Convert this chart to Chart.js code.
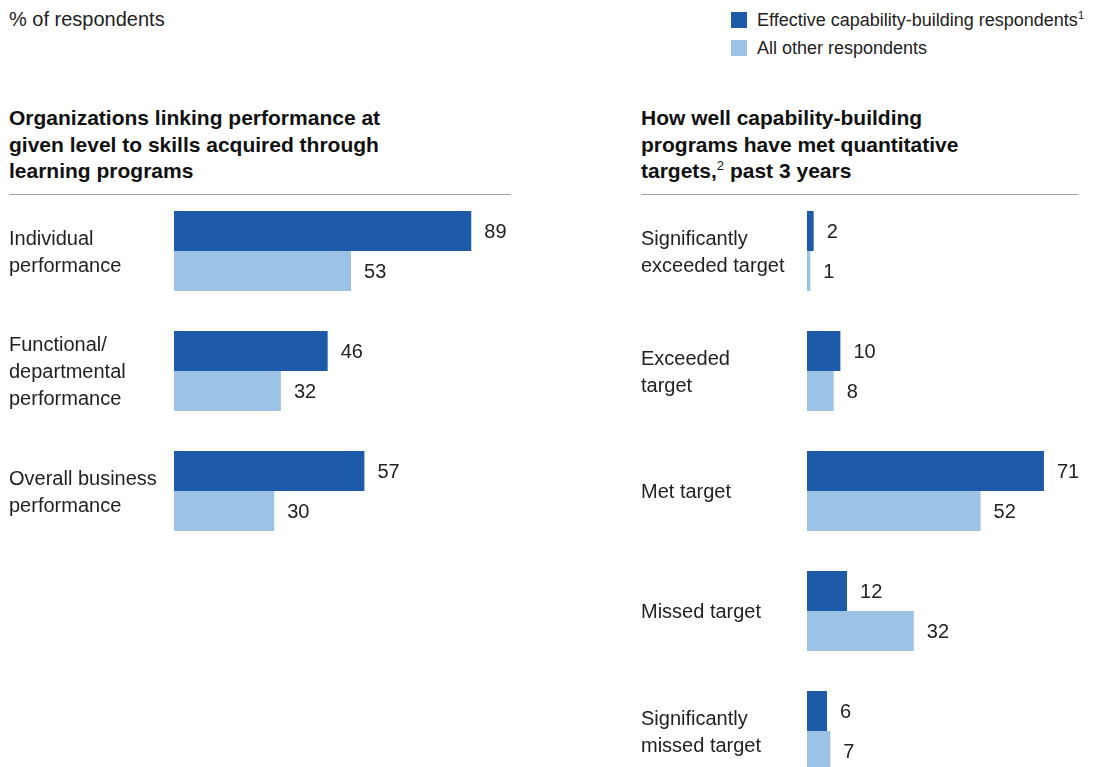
<!DOCTYPE html>
<html>
<head>
<meta charset="utf-8">
<script src="https://cdn.jsdelivr.net/npm/chart.js@4"></script>
<style>
  html, body { margin: 0; padding: 0; }
  body {
    width: 1102px; height: 767px; overflow: hidden; position: relative;
    background: #fff; font-family: "Liberation Sans", Arial, sans-serif; color: #222;
  }
  .unit { position: absolute; left: 9px; top: 6px; font-size: 20px; line-height: 26px; }
  .legend { position: absolute; left: 731px; top: 8px; font-size: 18px; }
  .legend div { height: 28px; line-height: 24px; white-space: nowrap; }
  .legend span.box { display: inline-block; width: 16px; height: 16px; vertical-align: -2px; margin-right: 10px; }
  .legend sup { font-size: 11px; vertical-align: 7px; line-height: 0; }
  .title { position: absolute; top: 105px; font-size: 21px; font-weight: bold; line-height: 26.5px; color: #111; white-space: nowrap; }
  .title sup { font-size: 13px; font-weight: normal; vertical-align: 8px; line-height: 0; }
  .rule { position: absolute; top: 194px; height: 1px; background: #a0a0a0; }
  .wrap { position: absolute; }
</style>
</head>
<body>
<div class="unit">% of respondents</div>
<div class="legend">
  <div><span class="box" style="background:#1d5aa9"></span>Effective capability-building respondents<sup>1</sup></div>
  <div><span class="box" style="background:#9cc2e5"></span>All other respondents</div>
</div>

<div class="title" style="left:9px">Organizations linking performance at<br>given level to skills acquired through<br>learning programs</div>
<div class="rule" style="left:9px; width:502px"></div>

<div class="title" style="left:641px">How well capability-building<br>programs have met quantitative<br>targets,<sup>2</sup> past 3 years</div>
<div class="rule" style="left:641px; width:437px"></div>

<div class="wrap" style="left:9px; top:191px; width:550px; height:360px"><canvas id="leftChart"></canvas></div>
<div class="wrap" style="left:641px; top:191px; width:461px; height:600px"><canvas id="rightChart"></canvas></div>

<script>
// data
const seriesNames = ["Effective capability-building respondents", "All other respondents"];
const leftCategories = [["Individual", "performance"], ["Functional/", "departmental", "performance"], ["Overall business", "performance"]];
const leftEffective = [89, 46, 57];
const leftOther = [53, 32, 30];
const rightCategories = [["Significantly", "exceeded target"], ["Exceeded", "target"], "Met target", "Missed target", ["Significantly", "missed target"]];
const rightEffective = [2, 10, 71, 12, 6];
const rightOther = [1, 8, 52, 32, 7];

const darkBlue = "#1d5aa9";
const lightBlue = "#9cc2e5";

// value labels right of each bar
const valueLabels = {
  id: "valueLabels",
  afterDatasetsDraw(chart) {
    const ctx = chart.ctx;
    ctx.save();
    ctx.font = "20px 'Liberation Sans', Arial, sans-serif";
    ctx.fillStyle = "#222";
    ctx.textAlign = "left";
    ctx.textBaseline = "middle";
    chart.data.datasets.forEach(function(ds, i) {
      chart.getDatasetMeta(i).data.forEach(function(bar, j) {
        ctx.fillText(ds.data[j], bar.x + 13, bar.y + 1);
      });
    });
    ctx.restore();
  }
};

function makeChart(id, labels, eff, other, axisWidth, xMax, padRight) {
  return new Chart(document.getElementById(id), {
    type: "bar",
    data: {
      labels: labels,
      datasets: [
        { label: seriesNames[0], data: eff, backgroundColor: darkBlue },
        { label: seriesNames[1], data: other, backgroundColor: lightBlue }
      ]
    },
    options: {
      indexAxis: "y",
      responsive: true,
      maintainAspectRatio: false,
      animation: false,
      layout: { padding: { left: 0, right: padRight, top: 0, bottom: 0 } },
      datasets: {
        bar: { barPercentage: 1, categoryPercentage: 80 / 120, borderWidth: 0 }
      },
      scales: {
        x: { display: false, min: 0, max: xMax },
        y: {
          grid: { display: false },
          border: { display: false },
          afterFit: function(scale) {
            scale.width = axisWidth;
            scale.paddingTop = 0;
            scale.paddingBottom = 0;
          },
          ticks: {
            crossAlign: "far",
            padding: 0,
            labelOffset: 1.5,
            color: "#222",
            font: { family: "'Liberation Sans', Arial, sans-serif", size: 20, lineHeight: 1.35 }
          }
        }
      },
      plugins: {
        legend: { display: false },
        tooltip: { enabled: false }
      }
    },
    plugins: [valueLabels]
  });
}

makeChart("leftChart", leftCategories, leftEffective, leftOther, 165, 100, 51);
makeChart("rightChart", rightCategories, rightEffective, rightOther, 166, 80, 28);
</script>
</body>
</html>
